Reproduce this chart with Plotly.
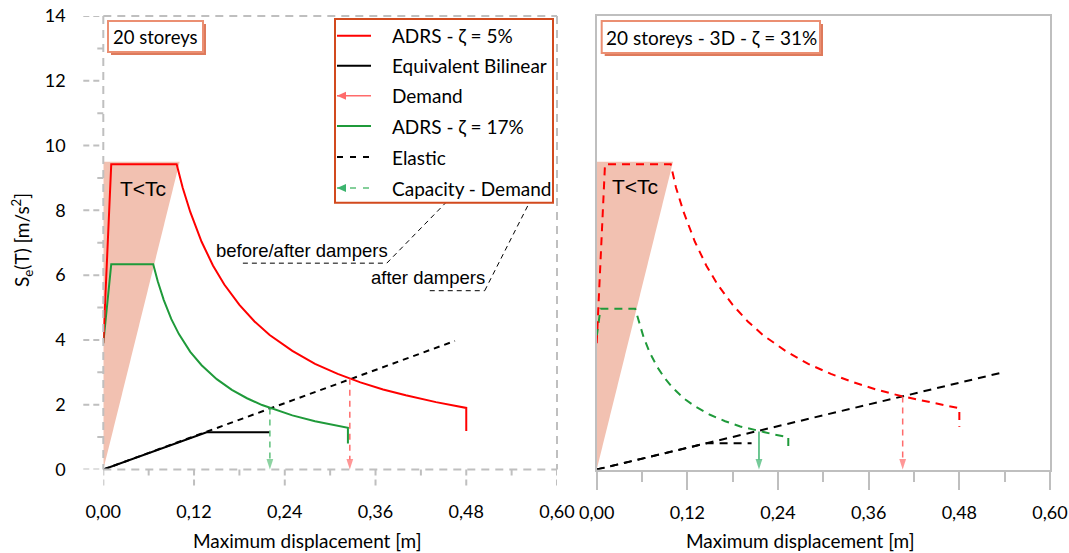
import plotly.graph_objects as go

W, H = 1069, 553

# ---------------- data ----------------
x_ticks = [0.0, 0.12, 0.24, 0.36, 0.48, 0.60]
x_ticktext = ["0,00", "0,12", "0,24", "0,36", "0,48", "0,60"]
x_minor = [0.06, 0.18, 0.30, 0.42, 0.54]
y_ticks = [0, 2, 4, 6, 8, 10, 12, 14]
y_minor = [1, 3, 5, 7, 9, 11, 13]

# T<Tc shaded zone
tc_x = [0.0, 0.0, 0.101]
tc_y = [0.0, 9.5, 9.5]

# Left panel: 20 storeys
L_adrs5_x = [0.0, 0.0105, 0.097, 0.105, 0.115, 0.13, 0.145, 0.16, 0.18, 0.20, 0.22, 0.25, 0.28, 0.31, 0.34, 0.37, 0.40, 0.44, 0.48, 0.48]
L_adrs5_y = [3.9, 9.42, 9.42, 8.70, 7.95, 7.03, 6.30, 5.71, 5.08, 4.57, 4.15, 3.66, 3.26, 2.95, 2.69, 2.47, 2.29, 2.08, 1.90, 1.19]
L_adrs17_x = [0.0, 0.0105, 0.066, 0.072, 0.08, 0.09, 0.10, 0.115, 0.13, 0.15, 0.17, 0.19, 0.21, 0.23, 0.25, 0.28, 0.3235, 0.3235]
L_adrs17_y = [3.9, 6.34, 6.34, 5.81, 5.23, 4.64, 4.18, 3.63, 3.22, 2.79, 2.46, 2.20, 1.99, 1.82, 1.67, 1.49, 1.29, 0.80]
L_bilin_x = [0.0, 0.1366, 0.2203]
L_bilin_y = [0.0, 1.15, 1.15]
L_elastic_x = [0.0, 0.465]
L_elastic_y = [0.0, 3.97]
L_demand_x = [0.326, 0.326]
L_demand_y = [2.80, 0.0]
L_capdem_x = [0.2203, 0.2203]
L_capdem_y = [1.88, 0.0]

# Right panel: 20 storeys - 3D - zeta = 31%
R_adrs5_x = [0.0, 0.011, 0.098, 0.105, 0.115, 0.13, 0.145, 0.16, 0.18, 0.20, 0.22, 0.25, 0.28, 0.31, 0.34, 0.37, 0.404, 0.44, 0.48, 0.48]
R_adrs5_y = [3.9, 9.42, 9.42, 8.70, 7.95, 7.03, 6.30, 5.71, 5.08, 4.57, 4.15, 3.66, 3.26, 2.95, 2.69, 2.47, 2.26, 2.08, 1.89, 1.32]
R_adrs31_x = [0.0, 0.005, 0.051, 0.056, 0.062, 0.07, 0.08, 0.09, 0.10, 0.115, 0.13, 0.15, 0.17, 0.19, 0.215, 0.235, 0.2536, 0.2536]
R_adrs31_y = [4.1, 4.96, 4.96, 4.53, 4.09, 3.62, 3.17, 2.82, 2.54, 2.20, 1.95, 1.69, 1.49, 1.33, 1.18, 1.08, 1.00, 0.70]
R_bilin_x = [0.0, 0.145, 0.205]
R_bilin_y = [0.0, 0.81, 0.81]
R_elastic_x = [0.0, 0.536]
R_elastic_y = [0.0, 2.99]
R_demand_x = [0.405, 0.405]
R_demand_y = [2.25, 0.0]
R_capdem_x = [0.2148, 0.2148]
R_capdem_y = [1.17, 0.0]

legend_labels = ["ADRS - ζ = 5%", "Equivalent Bilinear", "Demand", "ADRS - ζ = 17%", "Elastic", "Capacity - Demand"]

# ---------------- styles ----------------
RED = "#ff0000"
GREEN = "#1f9a3a"
BLACK = "#000000"
LRED = "#ff6b6b"
LGREEN = "#5cc07a"
SHADE = "#f2c1b1"
GRID = "#bfbfbf"
DASH = "8px,6px"
FONT = "Lato"
ARIAL = "Liberation Sans"

def PX(x):
    return x / W

def PY(y):
    return 1 - y / H

xl0, xl1 = 103.3, 557.0
xr0, xr1 = 596.7, 1050.0
yt, yb = 16.0, 469.5

fig = go.Figure()

def line(x, y, color, width=2, dash=None, xa="x", ya="y"):
    fig.add_trace(go.Scatter(x=x, y=y, mode="lines", xaxis=xa, yaxis=ya,
                             line=dict(color=color, width=width, dash=dash),
                             showlegend=False, hoverinfo="skip"))

def arrow(x, y, color, width=1.5, dash=None, xa="x", ya="y"):
    fig.add_trace(go.Scatter(x=x, y=y, mode="lines+markers", xaxis=xa, yaxis=ya,
                             line=dict(color=color, width=width, dash=dash),
                             marker=dict(symbol="arrow", angleref="previous", size=[0, 11],
                                         color=color, line=dict(width=0)),
                             cliponaxis=False, showlegend=False, hoverinfo="skip"))

# left panel
fig.add_trace(go.Scatter(x=tc_x, y=tc_y, fill="toself", mode="none", fillcolor=SHADE,
                         showlegend=False, hoverinfo="skip"))
line(L_elastic_x, L_elastic_y, BLACK, 2, "6px,5px")
line(L_bilin_x, L_bilin_y, BLACK, 2)
line(L_adrs17_x, L_adrs17_y, GREEN, 2)
line(L_adrs5_x, L_adrs5_y, RED, 2)
arrow(L_capdem_x, L_capdem_y, LGREEN, 1.5, "6px,5px")
arrow(L_demand_x, L_demand_y, LRED, 1.5, "6px,5px")

# right panel
fig.add_trace(go.Scatter(x=tc_x, y=tc_y, fill="toself", mode="none", fillcolor=SHADE,
                         xaxis="x2", yaxis="y2", showlegend=False, hoverinfo="skip"))
line(R_elastic_x, R_elastic_y, BLACK, 2, "8px,6px", "x2", "y2")
line(R_bilin_x, R_bilin_y, BLACK, 2, "8px,6px", "x2", "y2")
line(R_adrs31_x, R_adrs31_y, GREEN, 2, "8px,6px", "x2", "y2")
line(R_adrs5_x, R_adrs5_y, RED, 2, "8px,6px", "x2", "y2")
arrow(R_capdem_x, R_capdem_y, "#3cb46e", 1.5, None, "x2", "y2")
arrow(R_demand_x, R_demand_y, LRED, 1.5, "6px,5px", "x2", "y2")

shapes = []
annotations = []

def text(t, x, y, size, family=FONT, xref="paper", yref="paper", xanchor="center", angle=0):
    annotations.append(dict(text=t, xref=xref, yref=yref, x=x, y=y, xanchor=xanchor, yanchor="middle",
                            showarrow=False, textangle=angle,
                            font=dict(family=family, size=size, color="black")))

# left panel dashed frame
frame = dict(type="line", xref="paper", yref="paper", line=dict(color=GRID, width=2, dash=DASH))
for (a, b, c, d) in [(xl0, yb, xl1, yb), (xl0, yt, xl1, yt), (xl0, yt, xl0, yb), (xl1, yt, xl1, yb)]:
    shapes.append(dict(frame, x0=PX(a), y0=PY(b), x1=PX(c), y1=PY(d)))
# left panel dashed ticks
for v in x_ticks:
    shapes.append(dict(type="line", xref="x", yref="paper", x0=v, x1=v, y0=PY(yb), y1=PY(yb + 20),
                       line=dict(color=GRID, width=2, dash="6px,4px")))
for v in x_minor:
    shapes.append(dict(type="line", xref="x", yref="paper", x0=v, x1=v, y0=PY(yb), y1=PY(yb + 6),
                       line=dict(color=GRID, width=2)))
for v in y_ticks:
    shapes.append(dict(type="line", xref="paper", yref="y", y0=v, y1=v, x0=PX(xl0 - 20), x1=PX(xl0),
                       line=dict(color=GRID, width=2, dash="6px,4px")))
for v in y_minor:
    shapes.append(dict(type="line", xref="paper", yref="y", y0=v, y1=v, x0=PX(xl0 - 6), x1=PX(xl0),
                       line=dict(color=GRID, width=2)))

# leader lines for the annotations
lead = dict(type="line", xref="x", yref="y", line=dict(color=BLACK, width=1, dash="5px,4px"))
shapes.append(dict(lead, x0=0.1846, y0=6.37, x1=0.3749, y1=6.37))
shapes.append(dict(lead, x0=0.3749, y0=6.37, x1=0.4568, y1=8.33))
shapes.append(dict(lead, x0=0.4317, y0=5.52, x1=0.5044, y1=5.52))
shapes.append(dict(lead, x0=0.5044, y0=5.52, x1=0.5639, y1=8.26))

# label boxes with shadow
for (a, b, c, d) in [(108, 21, 203, 52), (601.7, 21, 820, 53)]:
    shapes.append(dict(type="rect", xref="paper", yref="paper", x0=PX(a + 3), x1=PX(c + 3),
                       y0=PY(b + 3), y1=PY(d + 3), fillcolor="#de7a5c", line=dict(width=0)))
    shapes.append(dict(type="rect", xref="paper", yref="paper", x0=PX(a), x1=PX(c),
                       y0=PY(b), y1=PY(d), fillcolor="white", line=dict(color="#eb8f72", width=2)))
text("20 storeys", PX(155.5), PY(37), 18.5)
text("20 storeys - 3D - ζ = 31%", PX(711), PY(37.5), 19)

# legend box
shapes.append(dict(type="rect", xref="paper", yref="paper", x0=PX(335), x1=PX(553), y0=PY(19), y1=PY(202.7),
                   fillcolor="white", line=dict(color="#d24a1e", width=2)))
rows_y = [35.7, 65.7, 95.7, 126.0, 157.0, 188.0]
leg_style = [(RED, 2, None), (BLACK, 2, None), (LRED, 1.5, None), (GREEN, 2, None), (BLACK, 2, "6px,7px"), (LGREEN, 1.5, "6px,7px")]
for lab, ry, (col, wd, ds) in zip(legend_labels, rows_y, leg_style):
    shapes.append(dict(type="line", xref="paper", yref="paper", x0=PX(337), x1=PX(371), y0=PY(ry), y1=PY(ry),
                       line=dict(color=col, width=wd, dash=ds)))
    text(lab, PX(390), PY(ry), 19, xanchor="left")
# legend arrowheads (pixel-sized triangles pointing left)
for ry, col in [(rows_y[2], LRED), (rows_y[5], "#3cb46e")]:
    shapes.append(dict(type="path", xref="paper", yref="paper", xsizemode="pixel", ysizemode="pixel",
                       xanchor=PX(337), yanchor=PY(ry), path="M0,0 L9,4 L9,-4 Z",
                       fillcolor=col, line=dict(width=0)))

# in-plot texts
text("T<Tc", 0.053, 8.68, 21, ARIAL, "x", "y")
text("T<Tc", 0.0507, 8.73, 21, ARIAL, "x2", "y2")
text("before/after dampers", 0.2626, 6.77, 18.5, ARIAL, "x", "y")
text("after dampers", 0.4298, 5.94, 18.5, ARIAL, "x", "y")

# axis titles
text("S<sub>e</sub>(T) [m/s<sup>2</sup>]", PX(22), PY(240), 19, angle=-90)
text("Maximum displacement [m]", PX(306.7), PY(540), 19)
text("Maximum displacement [m]", PX(800.0), PY(540), 19)

tickfont = dict(family=FONT, size=18, color="black")
fig.update_layout(
    width=W, height=H, margin=dict(l=0, r=0, t=0, b=0),
    paper_bgcolor="white", plot_bgcolor="white", showlegend=False,
    xaxis=dict(domain=[PX(xl0), PX(xl1)], range=[0, 0.6], tickmode="array", tickvals=x_ticks,
               ticktext=x_ticktext, showgrid=False, zeroline=False, showline=False,
               ticks="outside", ticklen=20, tickcolor="rgba(0,0,0,0)", ticklabelstandoff=6,
               tickfont=tickfont, automargin=False, anchor="y"),
    yaxis=dict(domain=[PY(yb), PY(yt)], range=[0, 14], tickmode="array", tickvals=y_ticks,
               showgrid=False, zeroline=False, showline=False,
               ticks="outside", ticklen=20, tickcolor="rgba(0,0,0,0)", ticklabelstandoff=13,
               tickfont=tickfont, automargin=False, anchor="x"),
    xaxis2=dict(domain=[PX(xr0), PX(xr1)], range=[0, 0.6], tickmode="array", tickvals=x_ticks,
                ticktext=x_ticktext, showgrid=False, zeroline=False, showline=True, linecolor=GRID,
                linewidth=2, mirror=True, ticks="outside", ticklen=18, tickwidth=2, tickcolor=GRID,
                minor=dict(tickmode="array", tickvals=x_minor, ticks="outside", ticklen=10,
                           tickwidth=2, tickcolor=GRID),
                ticklabelstandoff=8, tickfont=tickfont, automargin=False, anchor="y2"),
    yaxis2=dict(domain=[PY(yb), PY(yt)], range=[0, 14], showgrid=False, zeroline=False,
                showline=True, linecolor=GRID, linewidth=2, mirror=True, showticklabels=False,
                ticks="", automargin=False, anchor="x2"),
    shapes=shapes, annotations=annotations,
)

fig.write_html("out.html", config={"displayModeBar": False},
               post_script="document.body.style.margin='0';")
